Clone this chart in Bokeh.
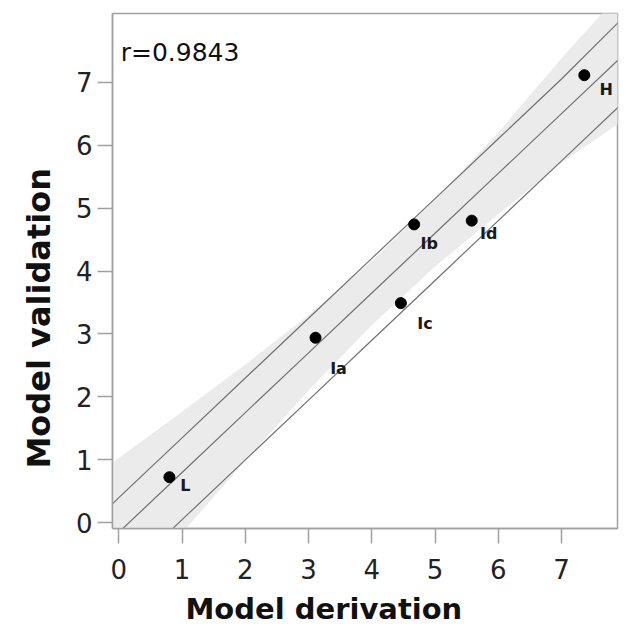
import numpy as np
from bokeh.plotting import figure
from bokeh.models import FixedTicker, Label, Title, ColumnDataSource, Range1d
from bokeh.core.properties import value
from bokeh.embed import file_html
from bokeh.resources import INLINE

# Points (Model derivation vs Model validation)
names = ["L", "Ia", "Ic", "Ib", "Id", "H"]
derivation = [0.80, 3.11, 4.46, 4.67, 5.58, 7.36]
validation = [0.725, 2.94, 3.49, 4.74, 4.80, 7.11]
label_dx = [16, 23, 24, 15, 17, 22]      # label offsets in px
label_dy = [8, 31, 20, 19, 13, 14]

# Fit line and bands
curve_x = [-0.1, 0.0, 1.0, 2.0, 3.0, 4.0, 5.0, 6.0, 7.0, 8.0]
fit_y   = [-0.245, -0.15, 0.80, 1.75, 2.70, 3.65, 4.60, 5.55, 6.50, 7.45]
band_lo = [-1.45, -1.33, -0.165, 0.985, 2.10, 3.14, 4.07, 4.90, 5.72, 6.41]
band_hi = [0.96, 1.03, 1.765, 2.515, 3.30, 4.16, 5.13, 6.20, 7.38, 8.49]
upper_y = [0.30, 0.40, 1.35, 2.30, 3.25, 4.20, 5.15, 6.10, 7.05, 8.05]
lower_y = [-1.0, -0.90, 0.05, 1.00, 1.95, 2.90, 3.85, 4.80, 5.75, 6.70]

ticks = [0, 1, 2, 3, 4, 5, 6, 7]
r_text = "r=0.9843"
x_title = "Model derivation"
y_title = "Model validation"

p = figure(width=625, height=634, output_backend="svg", toolbar_location=None,
           x_range=Range1d(-0.10, 7.885), y_range=Range1d(-0.09, 8.09),
           min_border_left=112, min_border_right=8, min_border_top=13, min_border_bottom=106)
p.grid.visible = False
p.outline_line_color = "#a0a0a0"
p.outline_line_width = 1.5
p.background_fill_color = "white"

p.varea(x=curve_x, y1=band_lo, y2=band_hi, fill_color="#ebebeb")
line_col = "#707070"
p.line(curve_x, fit_y, line_color=line_col, line_width=1.2)
p.line(curve_x, upper_y, line_color=line_col, line_width=1.2)
p.line(curve_x, lower_y, line_color=line_col, line_width=1.2)

src = ColumnDataSource(dict(x=derivation, y=validation, t=names, dx=label_dx, dy=label_dy))
p.scatter("x", "y", source=src, size=11, color="black")
p.text("x", "y", text="t", source=src, x_offset="dx", y_offset="dy",
       text_font=value("DejaVu Sans"), text_font_style="bold", text_font_size="16px",
       text_color="#1a1a1a", text_baseline="middle", text_align="center")

p.add_layout(Label(x=0.03, y=7.47, text=r_text, text_font="DejaVu Sans",
                   text_font_size="25px", text_color="#111111", text_baseline="alphabetic"))

for ax in (p.xaxis[0], p.yaxis[0]):
    ax.ticker = FixedTicker(ticks=ticks)
    ax.minor_tick_line_color = None
    ax.axis_line_color = "#a0a0a0"
    ax.axis_line_width = 1.5
    ax.major_tick_line_color = "#a0a0a0"
    ax.major_tick_line_width = 1.5
    ax.major_tick_in = 0
    ax.major_tick_out = 15
    ax.major_label_text_font = "DejaVu Sans"
    ax.major_label_text_font_size = "26px"
    ax.major_label_text_color = "#222222"

p.xaxis.major_label_standoff = 15
p.xaxis.major_label_text_line_height = 0.8
p.yaxis.major_label_standoff = 5

p.add_layout(Title(text=x_title, align="left", offset=73, standoff=17,
                   text_font="DejaVu Sans", text_font_style="bold", text_line_height=0.8,
                   text_font_size="29px", text_color="#111111"), "below")
p.add_layout(Title(text=y_title, align="left", offset=60, standoff=30,
                   text_font="DejaVu Sans", text_font_style="bold",
                   text_font_size="32px", text_color="#111111"), "left")

open("out.html", "w").write(file_html(p, INLINE))
